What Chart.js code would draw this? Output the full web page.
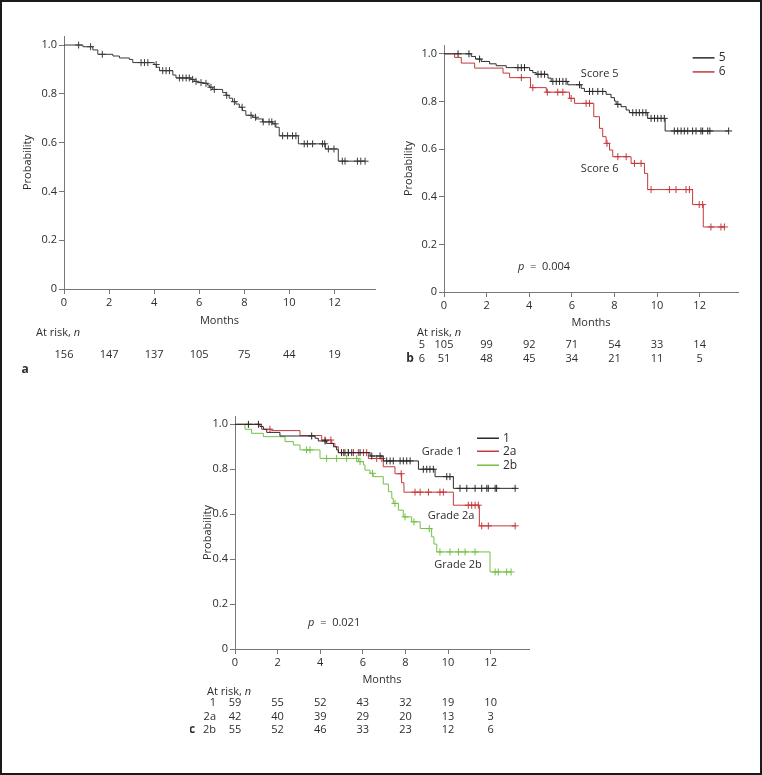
<!DOCTYPE html>
<html>
<head>
<meta charset="utf-8">
<script src="https://cdn.jsdelivr.net/npm/chart.js@4/dist/chart.umd.min.js"></script>
<style>
  html, body { margin: 0; padding: 0; background: #fff; }
  #frame { position: absolute; left: 0; top: 0; width: 762px; height: 775px; box-sizing: border-box; border: 2px solid #1a1a1a; }
  canvas { position: absolute; }
</style>
</head>
<body>
<div id="frame"></div>
<canvas id="chartA" width="380" height="385" style="left:0;top:0"></canvas>
<canvas id="chartB" width="380" height="385" style="left:380px;top:0"></canvas>
<canvas id="chartC" width="350" height="383" style="left:190px;top:390px"></canvas>
<script>
// axis ticks
const monthTicks = [0, 2, 4, 6, 8, 10, 12];
const probTicks = [0, 0.2, 0.4, 0.6, 0.8, 1.0];

// panel a - all patients
const allEventMonths = [0.84, 1.28, 1.5, 2.17, 2.46, 2.9, 3.05, 4.0, 4.1, 4.24, 4.83, 4.97, 5.64, 5.78, 5.93, 6.15, 6.37, 6.45, 6.6, 7.04, 7.19, 7.33, 7.48, 7.63, 7.78, 7.92, 8.07, 8.37, 8.52, 8.81, 9.25, 9.4, 9.55, 10.4, 11.6, 12.17];
const allEventSurv = [0.993, 0.98, 0.962, 0.955, 0.947, 0.941, 0.928, 0.92, 0.909, 0.895, 0.877, 0.865, 0.859, 0.851, 0.846, 0.843, 0.836, 0.827, 0.818, 0.805, 0.794, 0.782, 0.768, 0.758, 0.745, 0.731, 0.712, 0.704, 0.697, 0.685, 0.677, 0.663, 0.628, 0.595, 0.574, 0.524];
const allCensorMonths = [0.65, 1.18, 1.7, 3.42, 3.57, 3.72, 4.09, 4.38, 4.53, 4.68, 5.12, 5.27, 5.42, 5.56, 5.71, 5.86, 6.08, 6.3, 6.52, 6.67, 7.22, 7.56, 7.9, 8.3, 8.5, 8.84, 9.1, 9.22, 9.37, 9.7, 9.92, 10.14, 10.29, 10.66, 10.8, 11.03, 11.47, 11.57, 11.73, 11.98, 12.35, 12.47, 13.02, 13.17, 13.36];
const allAtRisk = [156, 147, 137, 105, 75, 44, 19];

// panel b - score 5 / score 6
const score5EventMonths = [1.28, 1.48, 1.75, 2.14, 2.45, 2.92, 4.02, 4.17, 4.33, 4.88, 5.03, 5.81, 6.44, 6.59, 7.61, 7.84, 8.0, 8.08, 8.31, 8.55, 8.7, 9.56, 10.38];
const score5EventSurv = [0.989, 0.978, 0.968, 0.958, 0.95, 0.942, 0.93, 0.921, 0.914, 0.898, 0.884, 0.87, 0.855, 0.842, 0.83, 0.816, 0.802, 0.788, 0.778, 0.764, 0.753, 0.729, 0.676];
const score5CensorMonths = [0.66, 1.17, 1.67, 3.47, 3.63, 3.78, 4.41, 4.56, 4.72, 5.11, 5.27, 5.42, 5.58, 5.73, 6.36, 6.83, 6.98, 7.22, 7.45, 8.16, 8.86, 9.02, 9.17, 9.33, 9.48, 9.72, 9.88, 10.03, 10.19, 10.34, 10.81, 10.97, 11.13, 11.28, 11.44, 11.67, 11.83, 12.06, 12.14, 12.38, 12.48, 13.36];
const score6EventMonths = [0.5, 0.81, 1.44, 2.77, 3.08, 4.06, 4.8, 5.89, 6.13, 7.03, 7.3, 7.45, 7.61, 7.77, 7.92, 8.78, 9.41, 9.56, 11.67, 12.17];
const score6EventSurv = [0.985, 0.961, 0.94, 0.919, 0.9, 0.858, 0.839, 0.813, 0.792, 0.736, 0.687, 0.652, 0.624, 0.596, 0.568, 0.54, 0.498, 0.43, 0.367, 0.273];
const score6CensorMonths = [3.63, 4.17, 4.85, 5.34, 5.58, 5.97, 6.67, 6.83, 7.65, 8.16, 8.55, 8.94, 9.25, 9.72, 10.58, 10.89, 11.36, 11.52, 11.98, 12.14, 12.53, 13.0, 13.16];
const score5AtRisk = [105, 99, 92, 71, 54, 33, 14];
const score6AtRisk = [51, 48, 45, 34, 21, 11, 5];

// panel c - grade 1 / 2a / 2b
const grade1EventMonths = [1.17, 1.33, 1.49, 2.11, 3.76, 3.91, 4.3, 4.62, 4.77, 4.85, 6.34, 6.96, 8.61, 9.39, 10.25];
const grade1EventSurv = [0.99, 0.978, 0.964, 0.948, 0.938, 0.926, 0.915, 0.9, 0.886, 0.874, 0.859, 0.837, 0.8, 0.767, 0.715];
const grade1CensorMonths = [0.63, 1.1, 3.6, 4.23, 5.0, 5.16, 5.32, 5.48, 5.87, 6.42, 6.81, 7.12, 7.28, 7.43, 7.75, 7.9, 8.06, 8.22, 8.84, 9.0, 9.15, 9.31, 9.94, 10.09, 10.56, 10.88, 11.27, 11.58, 11.82, 11.89, 12.21, 12.28, 13.15];
const grade2aEventMonths = [1.25, 1.72, 3.05, 4.07, 4.54, 4.69, 4.85, 6.26, 6.96, 7.51, 7.82, 7.93, 10.25, 11.47];
const grade2aEventSurv = [0.978, 0.972, 0.95, 0.93, 0.915, 0.9, 0.874, 0.848, 0.811, 0.78, 0.74, 0.698, 0.64, 0.548];
const grade2aCensorMonths = [1.64, 4.23, 4.5, 5.09, 5.32, 5.56, 5.79, 6.03, 6.18, 6.65, 6.89, 7.8, 8.45, 8.69, 9.08, 9.62, 9.78, 10.95, 11.11, 11.27, 11.42, 11.58, 11.89, 13.15];
const grade2bEventMonths = [0.47, 0.78, 1.33, 2.35, 2.74, 3.05, 3.99, 5.79, 6.03, 6.1, 6.34, 6.49, 6.96, 7.2, 7.36, 7.43, 7.67, 7.9, 8.29, 8.69, 9.23, 9.34, 9.47, 11.97];
const grade2bEventSurv = [0.978, 0.96, 0.945, 0.923, 0.908, 0.886, 0.848, 0.834, 0.819, 0.796, 0.782, 0.767, 0.734, 0.7, 0.67, 0.648, 0.618, 0.588, 0.566, 0.536, 0.499, 0.467, 0.432, 0.343];
const grade2bCensorMonths = [3.36, 3.52, 4.3, 4.77, 5.24, 5.71, 5.87, 6.45, 7.51, 7.98, 8.4, 9.12, 9.62, 10.09, 10.49, 10.8, 11.27, 12.21, 12.36, 12.75, 12.96];
const grade1AtRisk = [59, 55, 52, 43, 32, 19, 10];
const grade2aAtRisk = [42, 40, 39, 29, 20, 13, 3];
const grade2bAtRisk = [55, 52, 46, 33, 23, 12, 6];

const FONT = "'Open Sans', 'Noto Sans', sans-serif";
const textColor = '#2d2d2d';
const axisColor = '#777';
const black = '#2b2b2b';
const red = '#c4383c';
const green = '#74c046';

Chart.defaults.font.family = FONT;
Chart.defaults.font.size = 11;
Chart.defaults.color = textColor;

function survAt(times, surv, t) {
  let s = 1;
  times.forEach((e, i) => { if (e <= t) s = surv[i]; });
  return s;
}

// step line + censor crosses for one group
function kmDatasets(times, surv, censor, color) {
  const line = [{ x: 0, y: 1 }];
  times.forEach((t, i) => line.push({ x: t, y: surv[i] }));
  const end = Math.max(times[times.length - 1], censor[censor.length - 1]);
  line.push({ x: end, y: survAt(times, surv, end) });
  return [
    { data: line, borderColor: color, borderWidth: 1, stepped: 'before', pointRadius: 0, fill: false },
    { data: censor.map(t => ({ x: t, y: survAt(times, surv, t) })), showLine: false,
      pointStyle: 'cross', pointRadius: 3.5, borderColor: color, borderWidth: 1, backgroundColor: color }
  ];
}

function extras(cfg) {
  return {
    id: 'kmExtras',
    afterDraw(chart) {
      const { ctx, chartArea: area } = chart;
      const xs = chart.scales.x, ys = chart.scales.y;
      ctx.save();
      ctx.fillStyle = textColor;
      ctx.textBaseline = 'middle';
      ctx.font = '11px ' + FONT;

      (cfg.labels || []).forEach(l => {
        ctx.textAlign = 'center';
        ctx.fillText(l.text, xs.getPixelForValue(l.t), ys.getPixelForValue(l.s));
      });

      if (cfg.pValue) {
        let px = xs.getPixelForValue(cfg.pValue.t);
        const py = ys.getPixelForValue(cfg.pValue.s);
        ctx.textAlign = 'left';
        ctx.font = 'italic 11px ' + FONT;
        ctx.fillText('p', px, py);
        px += ctx.measureText('p').width;
        ctx.font = '11px ' + FONT;
        ctx.fillText('  =  ' + cfg.pValue.text, px, py);
      }

      if (cfg.legend) {
        const lg = cfg.legend;
        lg.items.forEach((it, i) => {
          const py = ys.getPixelForValue(lg.rows[i]);
          ctx.strokeStyle = it.color;
          ctx.lineWidth = 1.5;
          ctx.beginPath();
          ctx.moveTo(xs.getPixelForValue(lg.lineFrom), py);
          ctx.lineTo(xs.getPixelForValue(lg.lineTo), py);
          ctx.stroke();
          ctx.textAlign = 'left';
          ctx.font = '12px ' + FONT;
          ctx.fillText(it.label, xs.getPixelForValue(lg.textAt), py);
        });
      }

      // at-risk table
      const rk = cfg.risk;
      ctx.font = '11px ' + FONT;
      ctx.textAlign = 'left';
      const lx = area.left + rk.labelDx, ly = area.bottom + rk.labelDy;
      ctx.fillText('At risk, ', lx, ly);
      const w = ctx.measureText('At risk, ').width;
      ctx.font = 'italic 11px ' + FONT;
      ctx.fillText('n', lx + w, ly);
      ctx.font = '11px ' + FONT;
      rk.rows.forEach((row, r) => {
        const ry = area.bottom + rk.rowDy[r];
        if (row.name) {
          ctx.textAlign = 'right';
          ctx.fillText(row.name, area.left + rk.nameDx, ry);
        }
        ctx.textAlign = 'center';
        row.values.forEach((v, i) => ctx.fillText(String(v), xs.getPixelForValue(monthTicks[i]), ry));
      });
      ctx.font = 'bold 12px ' + FONT;
      ctx.textAlign = 'center';
      ctx.fillText(cfg.letter.text, area.left + cfg.letter.dx, area.bottom + cfg.letter.dy);
      ctx.restore();
    }
  };
}

function makeChart(id, datasets, lay, cfg) {
  const grid = { display: true, drawOnChartArea: false, drawTicks: true, tickLength: 5, color: axisColor, lineWidth: 1 };
  const border = { display: true, color: axisColor, width: 1 };
  return new Chart(document.getElementById(id), {
    type: 'line',
    data: { datasets },
    options: {
      responsive: false,
      animation: false,
      parsing: true,
      layout: { padding: lay.padding },
      plugins: { legend: { display: false }, tooltip: { enabled: false } },
      scales: {
        x: {
          type: 'linear', min: 0, max: 13.8,
          afterBuildTicks: s => { s.ticks = monthTicks.map(v => ({ value: v })); },
          afterFit: s => { s.height = lay.xHeight; },
          ticks: { padding: 2, color: textColor, font: { size: 11 }, callback: v => String(v) },
          grid, border,
          title: { display: true, text: 'Months', color: textColor, font: { size: 11 }, padding: 0 }
        },
        y: {
          type: 'linear', min: 0, max: 1.037,
          afterBuildTicks: s => { s.ticks = probTicks.map(v => ({ value: v })); },
          afterFit: s => { s.width = lay.yWidth; },
          ticks: { padding: 2, color: textColor, font: { size: 11 }, callback: v => v === 0 ? '0' : v.toFixed(1) },
          grid, border,
          title: { display: true, text: 'Probability', color: textColor, font: { size: 11 }, padding: 0 }
        }
      }
    },
    plugins: [extras(cfg)]
  });
}

makeChart('chartA',
  kmDatasets(allEventMonths, allEventSurv, allCensorMonths, '#3a3a3a'),
  { padding: { left: 21, top: 36, right: 3, bottom: 58 }, yWidth: 43, xHeight: 38 },
  {
    risk: { labelDx: -28, labelDy: 44, nameDx: -19, rowDy: [66], rows: [{ values: allAtRisk }] },
    letter: { text: 'a', dx: -39, dy: 81 }
  });

makeChart('chartB',
  [...kmDatasets(score5EventMonths, score5EventSurv, score5CensorMonths, black),
   ...kmDatasets(score6EventMonths, score6EventSurv, score6CensorMonths, red)],
  { padding: { left: 22, top: 45, right: 22, bottom: 56 }, yWidth: 42, xHeight: 37 },
  {
    labels: [{ text: 'Score 5', t: 7.31, s: 0.916 }, { text: 'Score 6', t: 7.31, s: 0.517 }],
    pValue: { text: '0.004', t: 3.47, s: 0.105 },
    legend: { items: [{ label: '5', color: black }, { label: '6', color: red }], lineFrom: 11.67, lineTo: 12.7, textAt: 12.9, rows: [0.983, 0.924] },
    risk: { labelDx: -27, labelDy: 41, nameDx: -19, rowDy: [53, 67],
      rows: [{ name: '5', values: score5AtRisk }, { name: '6', values: score6AtRisk }] },
    letter: { text: 'b', dx: -34, dy: 67 }
  });

makeChart('chartC',
  [...kmDatasets(grade1EventMonths, grade1EventSurv, grade1CensorMonths, black),
   ...kmDatasets(grade2aEventMonths, grade2aEventSurv, grade2aCensorMonths, red),
   ...kmDatasets(grade2bEventMonths, grade2bEventSurv, grade2bCensorMonths, green)],
  { padding: { left: 11, top: 26, right: 11, bottom: 87 }, yWidth: 34, xHeight: 37 },
  {
    labels: [{ text: 'Grade 1', t: 9.72, s: 0.876 }, { text: 'Grade 2a', t: 10.14, s: 0.591 }, { text: 'Grade 2b', t: 10.47, s: 0.373 }],
    pValue: { text: '0.021', t: 3.43, s: 0.116 },
    legend: { items: [{ label: '1', color: black }, { label: '2a', color: red }, { label: '2b', color: green }], lineFrom: 11.36, lineTo: 12.39, textAt: 12.58, rows: [0.938, 0.88, 0.818] },
    risk: { labelDx: -28, labelDy: 43, nameDx: -19, rowDy: [54, 68, 81],
      rows: [{ name: '1', values: grade1AtRisk }, { name: '2a', values: grade2aAtRisk }, { name: '2b', values: grade2bAtRisk }] },
    letter: { text: 'c', dx: -43, dy: 81 }
  });
</script>
</body>
</html>
